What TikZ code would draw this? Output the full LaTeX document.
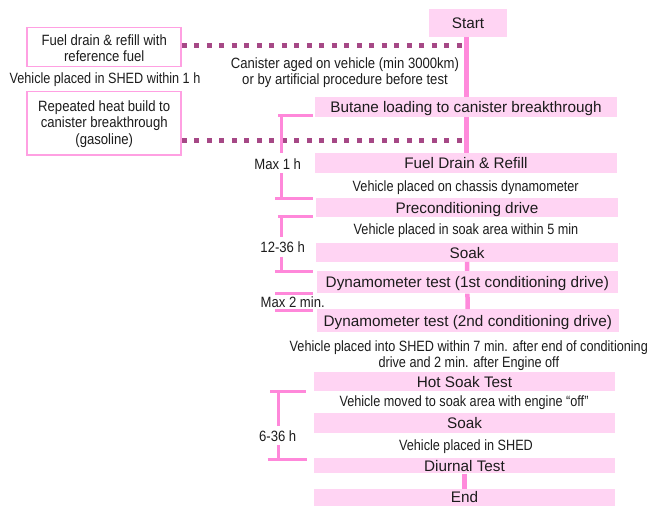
\documentclass[tikz,border=0pt]{standalone}
\usepackage{fontspec}
\setmainfont{Liberation Sans}
\newfontfamily\narrowfont[FakeStretch=0.88]{Liberation Sans}
\newfontfamily\narrowerfont[FakeStretch=0.85]{Liberation Sans}
\definecolor{boxfill}{RGB}{255,212,243}
\definecolor{spinecol}{RGB}{255,138,219}
\definecolor{brackcol}{RGB}{255,136,218}
\definecolor{dotcol}{RGB}{166,72,134}
\definecolor{leftborder}{RGB}{255,160,226}
\definecolor{txt}{RGB}{28,28,28}
\pgfdeclarelayer{background}
\pgfsetlayers{background,main}
\tikzset{
  stepbox/.style={fill=boxfill, draw=none, inner sep=0pt, text=txt,
    font=\fontsize{15.3}{17}\selectfont, text height=11pt, text depth=0pt},
  leftbox/.style={fill=white, draw=leftborder, line width=1.5pt, inner sep=0pt},
  boxline/.style={inner sep=0pt, text=txt,
    font=\narrowfont\fontsize{14.9}{16.5}\selectfont, text height=10.7pt, text depth=0pt},
  note/.style={inner sep=0pt, text=txt,
    font=\narrowerfont\fontsize{14.9}{16.2}\selectfont, text height=10.7pt, text depth=0pt},
  timelabel/.style={inner sep=0pt, text=txt,
    font=\narrowfont\fontsize{14.9}{16.2}\selectfont, text height=10.7pt, text depth=0pt},
  spine/.style={draw=spinecol, line width=4.5pt},
  conn/.style={draw=spinecol, line width=4.5pt},
  dotline/.style={draw=dotcol, line width=5pt, dash pattern=on 5pt off 7.5pt},
  bracket/.style={draw=brackcol, line width=3pt}
}
\begin{document}
\begin{tikzpicture}[x=1pt,y=-1pt]
\useasboundingbox (0,0) rectangle (650,506);
% main steps
\node[stepbox, minimum width=78, minimum height=28] (start) at (468,23) {Start};
\node[stepbox, minimum width=302, minimum height=20] (butane) at (466,106.7) {Butane loading to canister breakthrough};
\node[stepbox, minimum width=302, minimum height=20] (fueldr) at (466,162.7) {Fuel Drain \& Refill};
\node[stepbox, minimum width=302, minimum height=18.4] (precond) at (467,207.5) {Preconditioning drive};
\node[stepbox, minimum width=302, minimum height=18.4] (soaka) at (467,252.5) {Soak};
\node[stepbox, minimum width=301.5, minimum height=22.3] (dyna) at (467.3,282.2) {Dynamometer test (1st conditioning drive)};
\node[stepbox, minimum width=302.3, minimum height=22.7] (dynb) at (467.8,320.7) {Dynamometer test (2nd conditioning drive)};
\node[stepbox, minimum width=301, minimum height=18.4] (hot) at (464.5,381.5) {Hot Soak Test};
\node[stepbox, minimum width=301, minimum height=20] (soakb) at (464.5,422.7) {Soak};
\node[stepbox, minimum width=301, minimum height=15.6] (diurnal) at (464.5,465.5) {Diurnal Test};
\node[stepbox, minimum width=301, minimum height=16.7] (endn) at (464.5,497.3) {End};
% left boxes
\node[leftbox, minimum width=154, minimum height=39.4] (lb1) at (104,47) {};
\node[boxline] (lb1a) at (104.2,40.4) {Fuel drain \& refill with};
\node[boxline] (lb1b) at (104.2,56.4) {reference fuel};
\node[leftbox, minimum width=154, minimum height=63.3] (lb2) at (104,123.3) {};
\node[boxline] (lb2a) at (104.2,105.8) {Repeated heat build to};
\node[boxline] (lb2b) at (104.2,122.5) {canister breakthrough};
\node[boxline] (lb2c) at (104.2,139.2) {(gasoline)};
% notes
\node[note] (n0) at (105,78) {Vehicle placed in SHED within 1 h};
\node[boxline] (n1a) at (345,63.6) {Canister aged on vehicle (min 3000km)};
\node[boxline] (n1b) at (345,79) {or by artificial procedure before test};
\node[note] (n2) at (465.7,186) {Vehicle placed on chassis dynamometer};
\node[note] (n3) at (466,229) {Vehicle placed in soak area within 5 min};
\node[note] (n4a) at (468.8,345.7) {Vehicle placed into SHED within 7 min. after end of conditioning};
\node[note] (n4b) at (468.8,362) {drive and 2 min. after Engine off};
\node[note] (n5) at (464,400.7) {Vehicle moved to soak area with engine \char"201C off\char"201D};
\node[note] (n6) at (466,445) {Vehicle placed in SHED};
% time labels
\node[timelabel] (t1) at (277.7,164) {Max 1 h};
\node[timelabel] (t2) at (282.7,247.3) {12-36 h};
\node[timelabel] (t3) at (292.7,302.3) {Max 2 min.};
\node[timelabel] (t4) at (277.7,436) {6-36 h};
% connectors
\coordinate (sp) at (466.7,0);
\coordinate (d1) at (468.7,45);
\coordinate (d2) at (468.7,140);
\begin{pgfonlayer}{background}
\draw[spine] (start.south -| sp) -- (fueldr.north -| sp);
\draw[dotline] (lb1.east |- d1) -- (d1);
\draw[dotline] (lb2.east |- d2) -- (d2);
\end{pgfonlayer}
\draw[conn] (soaka) -- (dyna);
\draw[conn] (dyna) -- (dynb);
\draw[conn] (diurnal) -- (endn);
% brackets
\draw[bracket] (278,115.7) -- (313,115.7);
\draw[bracket] (281.7,115.7) -- (281.7,152.7);
\draw[bracket] (281.7,173) -- (281.7,198.3);
\draw[bracket] (275,198.3) -- (313,198.3);
\draw[bracket] (278,216.7) -- (313,216.7);
\draw[bracket] (281.7,216.7) -- (281.7,237);
\draw[bracket] (281.7,256.7) -- (281.7,271.7);
\draw[bracket] (275,271.7) -- (313,271.7);
\draw[bracket] (275,293.3) -- (313,293.3);
\draw[bracket] (275,310) -- (313,310);
\draw[bracket] (270,391) -- (306,391);
\draw[bracket] (278.3,391) -- (278.3,426);
\draw[bracket] (278.3,445) -- (278.3,459);
\draw[bracket] (267.7,459) -- (306.7,459);
\end{tikzpicture}
\end{document}
